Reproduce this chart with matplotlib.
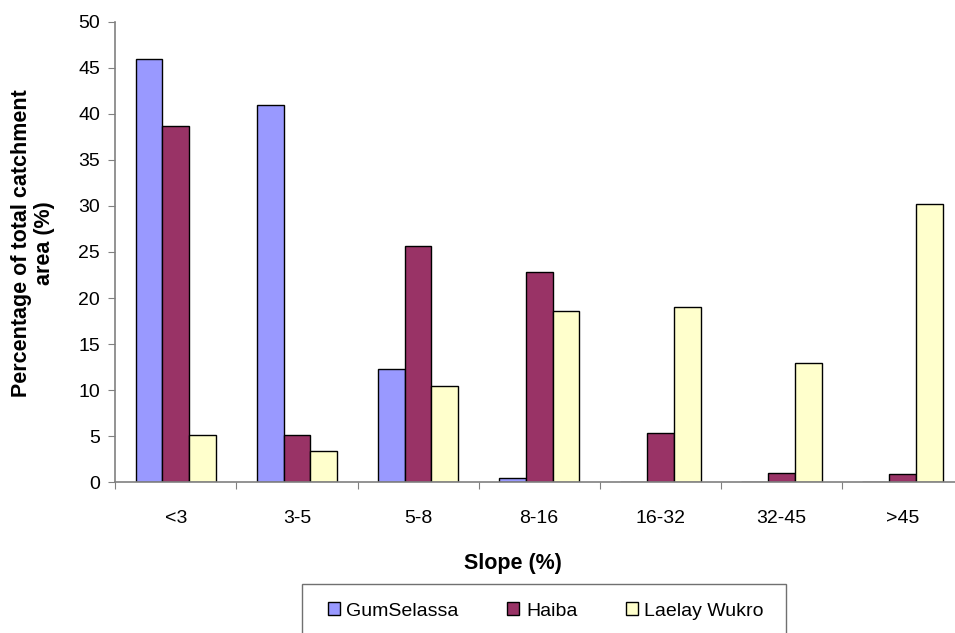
import numpy as np
import matplotlib.pyplot as plt
from matplotlib.patches import Rectangle

plt.rcParams['font.family'] = ['Liberation Sans', 'DejaVu Sans']

slopes = ['<3', '3-5', '5-8', '8-16', '16-32', '32-45', '>45']
gum_selassa = [46.0, 41.0, 12.3, 0.5, 0.0, 0.0, 0.0]
haiba = [38.7, 5.1, 25.7, 22.8, 5.4, 1.0, 0.9]
laelay_wukro = [5.1, 3.4, 10.5, 18.6, 19.0, 12.9, 30.2]

series = [('GumSelassa', gum_selassa, '#9999FF'),
          ('Haiba', haiba, '#993366'),
          ('Laelay Wukro', laelay_wukro, '#FFFFCC')]

W, H = 955, 633
fig = plt.figure(figsize=(W / 100, H / 100), dpi=100)
# axes run past the right edge, like the original sheet export
left, right, top, bottom = 115.3, 963.0, 21.7, 482.3
ax = fig.add_axes([left / W, 1 - bottom / H, (right - left) / W, (bottom - top) / H])

x = np.arange(len(slopes))
width = 0.222
for i, (name, vals, col) in enumerate(series):
    ax.bar(x + 0.5 + (i - 1) * width, vals, width, color=col, edgecolor='black',
           linewidth=1.0, label=name)

ax.set_xlim(0, len(slopes))
ax.set_ylim(0, 50)
ax.set_yticks(np.arange(0, 51, 5))
ax.set_xticks(np.arange(0, len(slopes) + 1))
ax.set_xticklabels([])
ax.set_xticks(x + 0.5, minor=True)
ax.set_xticklabels(slopes, minor=True)
ax.tick_params(axis='x', which='minor', length=0, pad=20, labelsize=14)
ax.tick_params(axis='x', which='major', length=5, direction='out', color='#808080')
ax.tick_params(axis='y', length=5, direction='out', color='#808080', labelsize=14, pad=6)

for s in ['top', 'right']:
    ax.spines[s].set_visible(False)
for s in ['left', 'bottom']:
    ax.spines[s].set_color('#808080')
    ax.spines[s].set_linewidth(1.2)

fig.text(33 / W, 1 - 243 / H, 'Percentage of total catchment\narea (%)', rotation=90,
         ha='center', va='center', fontsize=15.5, fontweight='bold', linespacing=1.15)
fig.text(513 / W, 1 - 563 / H, 'Slope (%)', ha='center', va='center',
         fontsize=15.5, fontweight='bold')

# legend box, its bottom edge falls off the figure
fig.patches.append(Rectangle((302 / W, -0.02), (786 - 302) / W, (1 - 584 / H) + 0.02,
                             transform=fig.transFigure, facecolor='white',
                             edgecolor='#707070', linewidth=1.0))
handles, labels = ax.get_legend_handles_labels()
fig.legend(handles, labels, loc='center left', bbox_to_anchor=(328 / W, 1 - 611 / H),
           ncol=3, frameon=False, fontsize=14, handlelength=0.6, handleheight=0.6,
           columnspacing=2.5, handletextpad=0.35, borderpad=0, borderaxespad=0)

fig.savefig('out.png', dpi=100)
